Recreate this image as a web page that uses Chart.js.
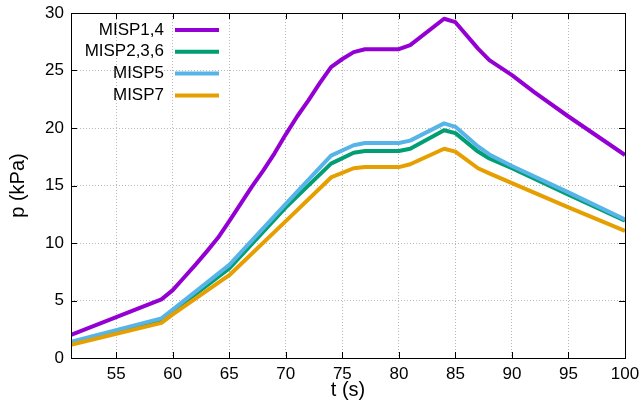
<!DOCTYPE html>
<html><head><meta charset="utf-8">
<style>html,body{margin:0;padding:0;background:#fff;overflow:hidden}</style>
<script src="https://cdn.jsdelivr.net/npm/chart.js@4.4.0/dist/chart.umd.min.js"></script>
</head><body>
<canvas id="c" width="643" height="403"></canvas>
<script>
// ---- data ----
const seriesNames = ['MISP1,4', 'MISP2,3,6', 'MISP5', 'MISP7'];
const seriesColors = ['#9400D3', '#009E73', '#56B4E9', '#E69F00'];
const tMISP14 = [51, 59, 60, 61, 62, 63, 64, 65, 66, 67, 68, 69, 70, 71, 72, 73, 74, 75, 76, 77, 80, 81, 84, 85, 87, 88, 90, 92, 95, 100];
const pMISP14 = [2.0, 5.1, 5.9, 7.0, 8.1, 9.25, 10.45, 11.9, 13.4, 14.9, 16.3, 17.8, 19.45, 21.0, 22.4, 23.9, 25.3, 26.0, 26.6, 26.85, 26.85, 27.2, 29.5, 29.2, 26.9, 25.9, 24.6, 23.1, 21.0, 17.65];
const tLower = [51, 59, 60, 65, 70, 74, 76, 77, 80, 81, 84, 85, 87, 88, 90, 95, 100];
const pMISP236 = [1.3, 3.3, 4.05, 7.8, 13.1, 16.9, 17.85, 18.0, 18.0, 18.2, 19.8, 19.55, 17.95, 17.35, 16.5, 14.2, 11.95];
const pMISP5 = [1.4, 3.45, 4.2, 8.1, 13.4, 17.6, 18.5, 18.7, 18.7, 18.9, 20.4, 20.1, 18.4, 17.7, 16.7, 14.4, 12.05];
const pMISP7 = [1.15, 3.05, 3.8, 7.2, 11.9, 15.7, 16.5, 16.6, 16.6, 16.85, 18.2, 17.95, 16.5, 16.05, 15.2, 13.1, 11.05];
const xRange = [51, 100];
const yRange = [0, 30];
const tickStep = 5;
const xTitle = 't (s)';
const yTitle = 'p (kPa)';

const pts = (ts, ps) => ts.map((t, i) => ({x: t, y: ps[i]}));
const seriesData = [pts(tMISP14, pMISP14), pts(tLower, pMISP236), pts(tLower, pMISP5), pts(tLower, pMISP7)];

const FAM = '"Liberation Sans", Arial, sans-serif';
const FONT = {family: FAM, size: 17};
const TFONT = {family: FAM, size: 20};

const frame = {
  id: 'frame',
  afterDraw(chart) {
    const {ctx, chartArea: a, scales: {x, y}} = chart;
    ctx.save();
    ctx.strokeStyle = '#000';
    ctx.lineWidth = 1;
    ctx.beginPath();
    const L = 6;
    x.ticks.forEach(t => {
      const px = Math.round(x.getPixelForValue(t.value)) + 0.5;
      ctx.moveTo(px, a.bottom); ctx.lineTo(px, a.bottom - L);
      ctx.moveTo(px, a.top); ctx.lineTo(px, a.top + L);
    });
    y.ticks.forEach(t => {
      const py = Math.round(y.getPixelForValue(t.value)) + 0.5;
      ctx.moveTo(a.left, py); ctx.lineTo(a.left + L, py);
      ctx.moveTo(a.right, py); ctx.lineTo(a.right - L, py);
    });
    ctx.stroke();
    ctx.strokeRect(Math.round(a.left) + 0.5, Math.round(a.top) + 0.5, Math.round(a.right - a.left), Math.round(a.bottom - a.top));
    // key
    ctx.font = FONT.size + 'px ' + FONT.family;
    ctx.textAlign = 'right';
    ctx.textBaseline = 'middle';
    ctx.fillStyle = '#000';
    chart.data.datasets.forEach((ds, i) => {
      const yy = 30 + i * 21.8;
      ctx.fillText(ds.label, 164, yy);
      ctx.beginPath();
      ctx.strokeStyle = ds.borderColor;
      ctx.lineWidth = 4;
      ctx.moveTo(175, yy); ctx.lineTo(219, yy);
      ctx.stroke();
    });
    ctx.restore();
  }
};

new Chart(document.getElementById('c'), {
  type: 'line',
  data: {
    datasets: seriesNames.map((n, i) => ({
      label: n,
      data: seriesData[i],
      borderColor: seriesColors[i],
      backgroundColor: seriesColors[i],
      borderWidth: 4,
      pointRadius: 0,
      tension: 0,
      fill: false,
      borderJoinStyle: 'round',
      order: seriesNames.length - i
    }))
  },
  options: {
    responsive: false,
    animation: false,
    devicePixelRatio: 1,
    layout: {padding: {left: 0, right: 18, top: 13, bottom: 0}},
    plugins: {legend: {display: false}, tooltip: {enabled: false}},
    scales: {
      x: {
        type: 'linear', min: xRange[0], max: xRange[1],
        ticks: {stepSize: tickStep, includeBounds: false, color: '#000', font: FONT, padding: 6, maxRotation: 0},
        grid: {color: '#b8b8b8', lineWidth: 1, drawTicks: false},
        border: {display: false, dash: [1, 2]},
        title: {display: true, text: xTitle, color: '#000', font: TFONT, padding: {top: 0, bottom: 1}},
        afterFit(s) { s.height = 45; s.paddingLeft = 0; s.paddingRight = 0; }
      },
      y: {
        type: 'linear', min: yRange[0], max: yRange[1],
        ticks: {stepSize: tickStep, color: '#000', font: FONT, padding: 7},
        grid: {color: '#b8b8b8', lineWidth: 1, drawTicks: false},
        border: {display: false, dash: [1, 2]},
        title: {display: true, text: yTitle, color: '#000', font: TFONT, padding: {top: 6, bottom: 0}},
        afterFit(s) { s.width = 71; s.paddingTop = 0; s.paddingBottom = 0; }
      }
    }
  },
  plugins: [frame]
});
</script>
</body></html>
